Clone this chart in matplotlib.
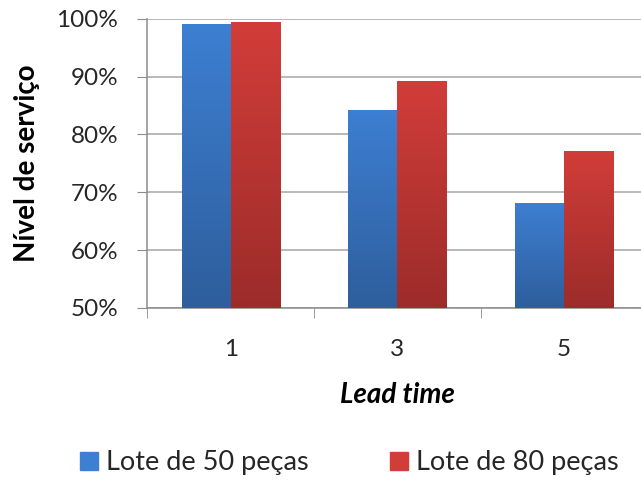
import numpy as np
import matplotlib.pyplot as plt
from matplotlib.colors import LinearSegmentedColormap
from matplotlib.ticker import FixedLocator, PercentFormatter

plt.rcParams['font.family'] = ['Lato', 'DejaVu Sans']

lead_times = ['1', '3', '5']
lote_50 = [99.1, 84.3, 68.2]
lote_80 = [99.5, 89.3, 77.2]
series_labels = ['Lote de 50 peças', 'Lote de 80 peças']

blue_top, blue_bot = '#3D7FD2', '#2E5E9C'
red_top, red_bot = '#D23D39', '#9C2C2A'

fig = plt.figure(figsize=(6.41, 4.82), dpi=100)
ax = fig.add_axes([0.230, 0.361, 0.780, 0.600])

x = np.arange(len(lead_times))
w = 0.295


def gradient_bars(ax, xs, vals, top, bot, label):
    bars = ax.bar(xs, vals, w, bottom=0, color=top, label=label, zorder=2)
    cmap = LinearSegmentedColormap.from_list('g', [bot, top])
    grad = np.linspace(0, 1, 256).reshape(-1, 1)
    for b in bars:
        x0, y0 = b.get_x(), 50
        x1, y1 = x0 + b.get_width(), b.get_height()
        im = ax.imshow(grad, cmap=cmap, aspect='auto', origin='lower',
                       extent=(x0, x1, y0, y1), zorder=3)
        im.set_clip_path(b)
    return bars


b1 = gradient_bars(ax, x - w / 2, lote_50, blue_top, blue_bot, series_labels[0])
b2 = gradient_bars(ax, x + w / 2, lote_80, red_top, red_bot, series_labels[1])

ax.set_xlim(-0.5, len(lead_times) - 0.5)
ax.set_ylim(50, 100)
ax.set_yticks(np.arange(50, 101, 10))
ax.yaxis.set_major_formatter(PercentFormatter(decimals=0))
ax.set_xticks(x)
ax.set_xticklabels(lead_times)
ax.xaxis.set_minor_locator(FixedLocator(np.arange(-0.5, len(lead_times), 1)))

ax.grid(axis='y', color='#A6A6A6', lw=1.1, zorder=0)
ax.set_axisbelow(True)
for s in ['top', 'right']:
    ax.spines[s].set_visible(False)
for s in ['left', 'bottom']:
    ax.spines[s].set_color('#8C8C8C')
    ax.spines[s].set_linewidth(1.1)

ax.tick_params(axis='y', which='major', direction='out', length=7, color='#8C8C8C',
               labelsize=17.5, labelcolor='#262626', pad=14)
ax.tick_params(axis='x', which='major', length=0, labelsize=17.5,
               labelcolor='#262626', pad=22)
ax.tick_params(axis='x', which='minor', direction='out', length=7, color='#8C8C8C')

ax.set_xlabel('Lead time', fontsize=20, fontweight='bold', style='italic',
              labelpad=16, color='#000000')
ax.set_ylabel('Nível de serviço', fontsize=20, fontweight='bold', labelpad=12,
              color='#000000')

handles = [plt.Rectangle((0, 0), 1, 1, color=blue_top),
           plt.Rectangle((0, 0), 1, 1, color=red_top)]
fig.legend(handles, series_labels, loc='center', bbox_to_anchor=(0.545, 0.04),
           ncol=2, frameon=False, fontsize=19.5, handlelength=0.65, handleheight=0.65,
           handletextpad=0.3, columnspacing=3.0, labelcolor='#262626')

fig.savefig('out.png', dpi=100)
